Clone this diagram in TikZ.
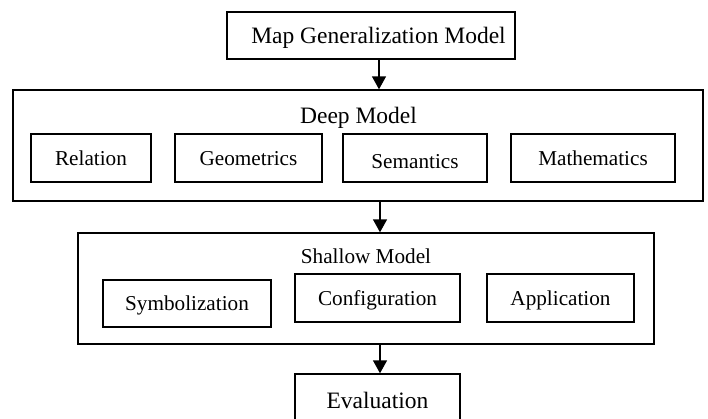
\documentclass[tikz,border=0pt]{standalone}
\usepackage{fontspec}
\setmainfont{Liberation Serif}
\usetikzlibrary{arrows.meta}
\begin{document}
\begin{tikzpicture}[x=1pt,y=-1pt,
  box/.style={draw, line width=1.4pt, rectangle, inner sep=0pt, text depth=0pt},
  frame/.style={draw, line width=1.4pt, rectangle, inner sep=0pt},
  lbl/.style={inner sep=0pt, text depth=0pt},
  arr/.style={line width=1.4pt, -{Triangle[length=13pt,width=14pt]}},
  big/.style={font=\fontsize{23.5}{26}\selectfont, text height=15.55pt},
  mid/.style={font=\fontsize{21.2}{24}\selectfont, text height=14.03pt},
]
\useasboundingbox (0,0) rectangle (708,418);
% top
\node[box, big, minimum width=288pt, minimum height=47pt] (top) at (371,35.5) {\hspace{15pt}Map Generalization Model};
% deep model
\node[frame, minimum width=690pt, minimum height=111pt] (deep) at (358,145.5) {};
\node[lbl, big] (deepT) at (358.5,115.5) {Deep Model};
\node[box, mid, minimum width=120pt, minimum height=48pt] (rel) at (91,158) {Relation};
\node[box, mid, minimum width=147pt, minimum height=48pt] (geo) at (248.5,158) {Geometrics};
\node[box, mid, minimum width=144pt, minimum height=48pt] (sem) at (415,158) {\raisebox{-3.5pt}{Semantics}};
\node[box, mid, minimum width=164pt, minimum height=48pt] (mat) at (593,158) {Mathematics};
% shallow model
\node[frame, minimum width=576pt, minimum height=111pt] (shal) at (366,288.5) {};
\node[lbl, mid] (shalT) at (366,256) {Shallow Model};
\node[box, mid, minimum width=168pt, minimum height=47pt] (sym) at (187,303.5) {Symbolization};
\node[box, mid, minimum width=165pt, minimum height=48pt] (con) at (377.5,298) {Configuration};
\node[box, mid, minimum width=147pt, minimum height=48pt] (app) at (560.5,298) {Application};
% evaluation
\node[box, big, minimum width=165pt, minimum height=66pt] (eva) at (377.5,407) {\raisebox{6.5pt}{Evaluation}};
% arrows
\coordinate (a1) at (379,0);
\coordinate (a2) at (380,0);
\draw[arr] (top.south -| a1) -- (deep.north -| a1);
\draw[arr] (deep.south -| a2) -- (shal.north -| a2);
\draw[arr] (shal.south -| a2) -- (eva.north -| a2);
\end{tikzpicture}
\end{document}
